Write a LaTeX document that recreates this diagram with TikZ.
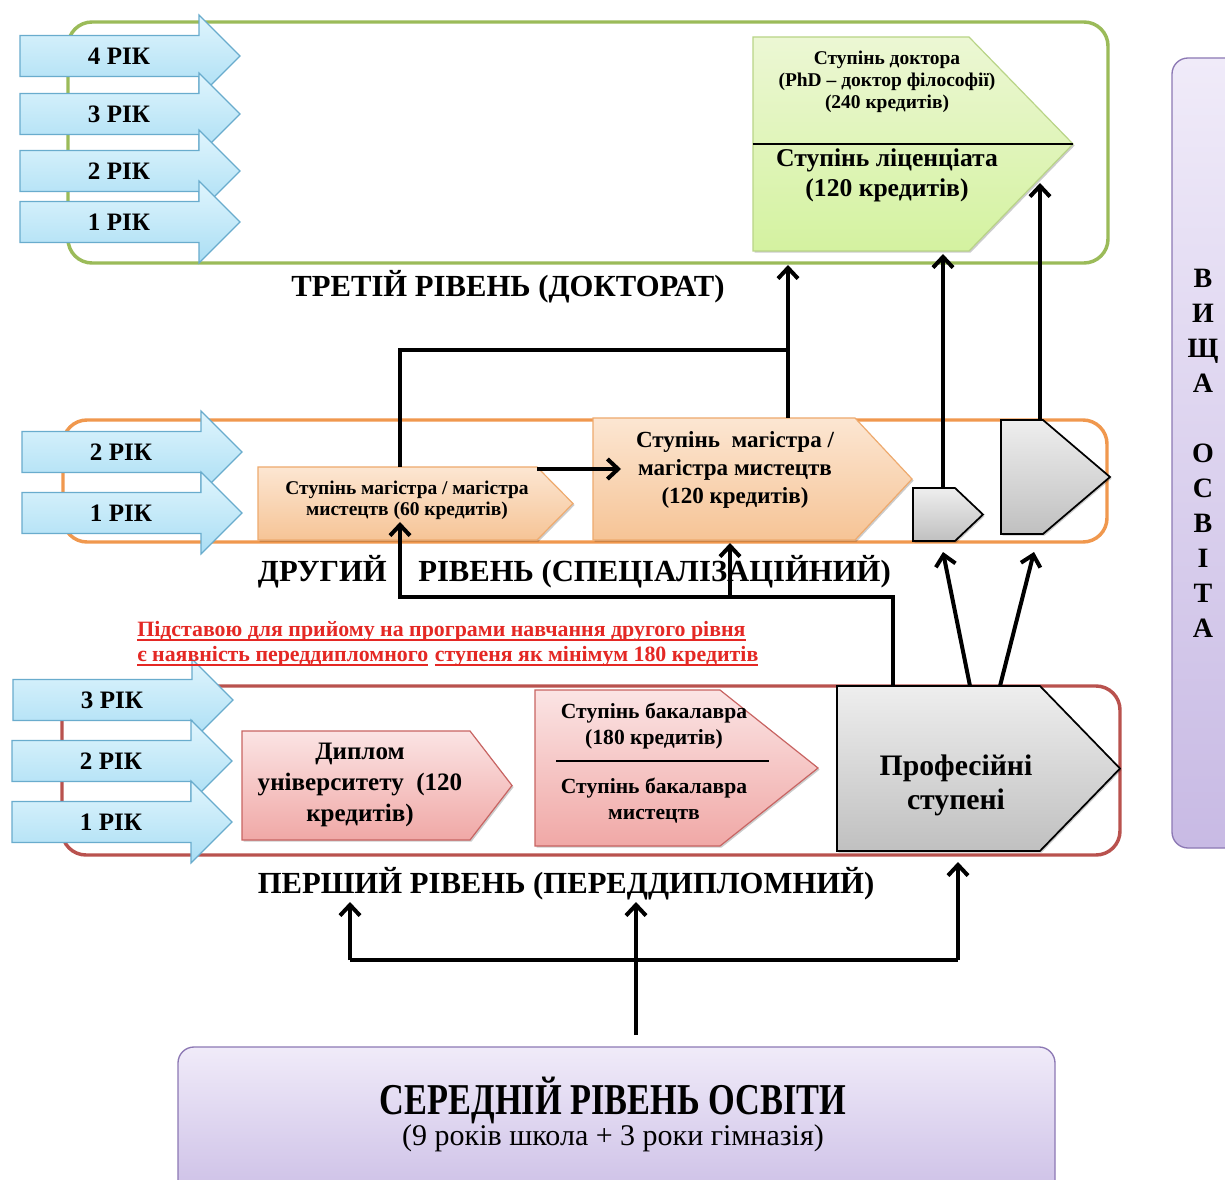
\documentclass[tikz,border=0pt]{standalone}
\usepackage{fontspec}
\setmainfont{Liberation Serif}
\newfontfamily\condfont{Liberation Serif}[FakeStretch=0.78]
\usetikzlibrary{arrows.meta,calc,fit,shadows}
\definecolor{yrTop}{RGB}{224,245,253}
\definecolor{yrBot}{RGB}{170,222,244}
\definecolor{yrLine}{RGB}{105,172,205}
\definecolor{lvGreen}{RGB}{155,187,89}
\definecolor{lvOrange}{RGB}{240,152,78}
\definecolor{lvRed}{RGB}{185,82,78}
\definecolor{grTop}{RGB}{236,247,212}
\definecolor{grBot}{RGB}{212,242,160}
\definecolor{grLine}{RGB}{185,212,135}
\definecolor{orTop}{RGB}{252,230,210}
\definecolor{orBot}{RGB}{246,196,150}
\definecolor{orLine}{RGB}{238,170,110}
\definecolor{pkTop}{RGB}{251,228,228}
\definecolor{pkBot}{RGB}{240,168,166}
\definecolor{pkLine}{RGB}{200,100,98}
\definecolor{gyTop}{RGB}{238,238,238}
\definecolor{gyBot}{RGB}{192,192,192}
\definecolor{ppTop}{RGB}{240,235,249}
\definecolor{ppBot}{RGB}{200,186,228}
\definecolor{ppLine}{RGB}{140,120,180}
\definecolor{noteRed}{RGB}{228,40,36}
\newcommand{\thickUl}[1]{\setbox0\hbox{#1}\rlap{\rule[-3.4pt]{\wd0}{1.3pt}}\box0\relax}
\tikzset{
  frame/.style={line width=2.6pt, rounded corners=18pt, inner sep=0pt},
  yarrow/.style={draw=yrLine, line width=0.9pt, top color=yrTop, bottom color=yrBot},
  yrtext/.style={font=\fontsize{18.8}{22}\selectfont\bfseries, inner sep=0pt},
  shd/.style={drop shadow={shadow xshift=1.2pt, shadow yshift=-1.2pt, opacity=0.2, fill=black}},
  greenbox/.style={draw=grLine, line width=0.9pt, top color=grTop, bottom color=grBot, shd},
  orangebox/.style={draw=orLine, line width=0.9pt, top color=orTop, bottom color=orBot, shd},
  pinkbox/.style={draw=pkLine, line width=0.9pt, top color=pkTop, bottom color=pkBot, shd},
  graybox/.style={draw=black, line width=1.3pt, top color=gyTop, bottom color=gyBot, shd},
  purplebox/.style={draw=ppLine, line width=1pt, top color=ppTop, bottom color=ppBot, rounded corners=12pt, inner sep=0pt},
  body/.style={inner sep=0pt},
  lbl/.style={font=\fontsize{23}{27}\selectfont\bfseries, inner sep=0pt},
  notetext/.style={anchor=west, inner sep=0pt, text=noteRed, font=\fontsize{16.4}{19}\selectfont\bfseries},
  txt/.style={align=center, inner sep=0pt},
  conn/.style={line width=3pt, -{Straight Barb[length=8pt,width=15pt]}},
  plainconn/.style={line width=3pt},
}
\newcommand{\yrArrow}[4]{%
  \path[yarrow] (#2,#3-20.5) -- (#2+179,#3-20.5) -- (#2+179,#3-41) -- (#2+220,#3)
     -- (#2+179,#3+41) -- (#2+179,#3+20.5) -- (#2,#3+20.5) -- cycle;
  \node[yrtext] (#1) at (#2+99,#3) {#4};
}
\newcommand{\pentBox}[7]{%
  \path[#7] (#2,#3) -- (#4,#3) -- (#5,{(#3+#6)/2}) -- (#4,#6) -- (#2,#6) -- cycle;
  \node[body, fit={(#2,#3) (#4,#6)}] (#1) {};
}
\begin{document}
\begin{tikzpicture}[x=0.75pt,y=-0.75pt]
\fill[white] (0,0) rectangle (1225,1180);
\clip (0,0) rectangle (1225,1180);

% level frames
\node[frame, draw=lvGreen, fit={(68,22) (1108,263)}] (lvl3) {};
\node[frame, draw=lvOrange, fit={(63,420) (1107,542)}] (lvl2) {};
\node[frame, draw=lvRed, fit={(62,686) (1120,855)}] (lvl1) {};

% year arrows
\yrArrow{t4}{20}{56}{4 РІК}
\yrArrow{t3}{20}{114}{3 РІК}
\yrArrow{t2}{20}{171}{2 РІК}
\yrArrow{t1}{20}{222}{1 РІК}
\yrArrow{s2}{22}{452}{2 РІК}
\yrArrow{s1}{22}{513}{1 РІК}
\yrArrow{f3}{13}{700}{3 РІК}
\yrArrow{f2}{12}{761}{2 РІК}
\yrArrow{f1}{12}{822}{1 РІК}

% third level box
\pentBox{doc}{753}{37}{969}{1073}{251}{greenbox}
\draw[line width=1pt] (doc.west) -- (1073,144);
\node[txt, font=\fontsize{14.6}{16.5}\selectfont\bfseries] (docT) at (887,82)
  {Ступінь доктора\\(PhD – доктор філософії)\\(240 кредитів)};
\node[txt, font=\fontsize{19.2}{22.5}\selectfont\bfseries] (licT) at (887,175)
  {Ступінь ліценціата\\(120 кредитів)};
\node[lbl] (lbl3) at (508,287) {ТРЕТІЙ РІВЕНЬ (ДОКТОРАТ)};

% second level boxes
\pentBox{m60}{258}{467}{537}{573}{540}{orangebox}
\node[txt, font=\fontsize{14.6}{16}\selectfont\bfseries] (m60T) at (407,500)
  {Ступінь магістра / магістра\\мистецтв (60 кредитів)};
\pentBox{m120}{593}{418}{855}{912}{540}{orangebox}
\node[txt, font=\fontsize{17.3}{21}\selectfont\bfseries] (m120T) at (735,470)
  {Ступінь \ магістра /\\магістра мистецтв\\(120 кредитів)};
\pentBox{gs}{913}{488}{955}{983}{541}{graybox}
\pentBox{gl}{1001}{420}{1043}{1110}{534}{graybox}
\node[lbl, anchor=east] (lbl2a) at (387,572) {ДРУГИЙ};
\node[lbl, anchor=west] (lbl2b) at (418,572) {РІВЕНЬ (СПЕЦІАЛІЗАЦІЙНИЙ)};

% note
\node[notetext] (note1) at (137,631)
  {\thickUl{Підставою для прийому на програми навчання другого рівня}};
\node[notetext] (note2) at (137,656)
  {\thickUl{є наявність переддипломного}\hspace{5pt}\thickUl{ступеня як мінімум 180 кредитів}};

% first level boxes
\pentBox{dip}{242}{731}{470}{512}{840}{pinkbox}
\node[txt, font=\fontsize{18.8}{23}\selectfont\bfseries] (dipT) at (360,785)
  {Диплом\\університету \ (120\\кредитів)};
\pentBox{bac}{535}{690}{720}{818}{846}{pinkbox}
\node[txt, font=\fontsize{16.2}{19.5}\selectfont\bfseries] (bacT1) at (654,726)
  {Ступінь бакалавра\\(180 кредитів)};
\draw[line width=1pt] (556,761) -- (769,761);
\node[txt, font=\fontsize{16.2}{19.5}\selectfont\bfseries] (bacT2) at (654,801)
  {Ступінь бакалавра\\мистецтв};
\pentBox{prof}{837}{686}{1040}{1120}{851}{graybox}
\node[txt, font=\fontsize{22.3}{25.5}\selectfont\bfseries] (profT) at (956,785)
  {Професійні\\ступені};
\node[lbl] (lbl1) at (566,884) {ПЕРШИЙ РІВЕНЬ (ПЕРЕДДИПЛОМНИЙ)};

% right vertical box
\node[purplebox, fit={(1172,58) (1260,848)}] (vo) {};
\node[txt, font=\fontsize{21}{26.25}\selectfont\bfseries] (voT) at (1203,453)
  {В\\И\\Щ\\А\\[26.25pt]О\\С\\В\\І\\Т\\А};

% bottom box
\node[purplebox, fit={(178,1047) (1055,1215)}] (sec) {};
\node[inner sep=0pt, font=\fontsize{33}{36}\condfont\bfseries] (secT1) at (613,1100) {СЕРЕДНІЙ РІВЕНЬ ОСВІТИ};
\node[inner sep=0pt, font=\fontsize{22.5}{26}\selectfont] (secT2) at (613,1138) {(9 років школа + 3 роки гімназія)};

% connector points
\coordinate (secA) at (636,1035);
\coordinate (jL) at (350,960);
\coordinate (jR) at (958,960);
\coordinate (l1L) at (350,902);
\coordinate (l1M) at (636,902);
\coordinate (profIn) at (958,862);
\coordinate (profO1) at (893,686);
\coordinate (hB) at (893,597);
\coordinate (hA) at (400,597);
\coordinate (m60In) at (400,522);
\coordinate (hM) at (730,597);
\coordinate (m120In) at (730,543);
\coordinate (profO2) at (970,686);
\coordinate (gsIn) at (943,552);
\coordinate (profO3) at (1000,686);
\coordinate (glIn) at (1034,552);
\coordinate (gsOut) at (943,488);
\coordinate (docIn1) at (943,254);
\coordinate (glOut) at (1040,420);
\coordinate (docIn2) at (1040,183);
\coordinate (m60Out) at (400,467);
\coordinate (hC) at (400,350);
\coordinate (hD) at (788,350);
\coordinate (m120Out) at (788,418);
\coordinate (lvl3In) at (788,265);
\coordinate (m60R) at (537,469);
\coordinate (m120L) at (621,469);

% connectors
\draw[conn] (secA) -- (l1M);
\draw[plainconn] (jL) -- (jR);
\draw[conn] (jL) -- (l1L);
\draw[conn] (jR) -- (profIn);
\draw[conn] (profO1) -- (hB) -- (hA) -- (m60In);
\draw[conn] (hM) -- (m120In);
\draw[conn] (profO2) -- (gsIn);
\draw[conn] (profO3) -- (glIn);
\draw[conn] (gsOut) -- (docIn1);
\draw[conn] (glOut) -- (docIn2);
\draw[plainconn] (m60Out) -- (hC) -- (hD);
\draw[conn] (m120Out) -- (lvl3In);
\draw[conn] (m60R) -- (m120L);
\end{tikzpicture}
\end{document}
